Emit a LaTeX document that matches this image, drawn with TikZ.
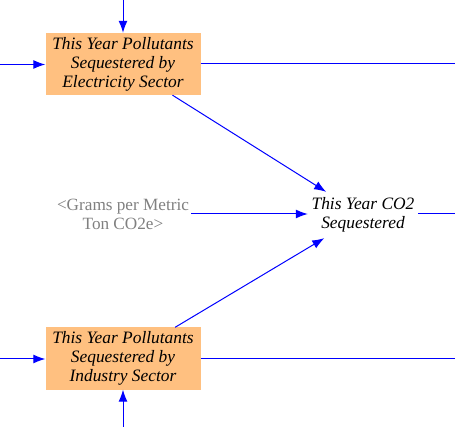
\documentclass[tikz,border=0pt]{standalone}
\usepackage{fontspec}
\setmainfont{Liberation Serif}
\usetikzlibrary{arrows.meta}
\definecolor{flowblue}{HTML}{0000FF}
\definecolor{stockfill}{HTML}{FFC080}
\definecolor{shadowgray}{HTML}{808080}
\tikzset{
  var/.style={align=center, inner sep=0pt, font=\fontsize{17.4}{19}\selectfont\itshape},
  stock/.style={var, rectangle, fill=stockfill, minimum width=155pt, minimum height=62pt},
  shadow/.style={align=center, inner sep=0pt, text=shadowgray, font=\fontsize{17.2}{19}\selectfont},
  link/.style={-{Latex[length=12pt,width=9pt]}, line width=1pt, draw=flowblue},
  plain/.style={line width=1pt, draw=flowblue}
}

\begin{document}
\begin{tikzpicture}[x=1pt,y=-1pt]
\useasboundingbox (0,0) rectangle (455,427);

\node[stock] (elecseq) at (123,64) {This Year Pollutants\\Sequestered by\\Electricity Sector};
\node[stock] (indseq) at (123,358.5) {This Year Pollutants\\Sequestered by\\Industry Sector};
\node[var, minimum width=110pt, minimum height=46pt] (co2seq) at (363,215) {This Year CO2\\Sequestered};
\node[shadow, minimum width=136pt, minimum height=40pt] (gramsper) at (123,214) {<Grams per Metric\\Ton CO2e>};

\coordinate (electop) at (123,0);
\coordinate (elecleft) at (0,64.5);
\coordinate (elecright) at (455,64);
\coordinate (indbot) at (123,427);
\coordinate (indleft) at (0,359);
\coordinate (indright) at (455,359);
\coordinate (co2right) at (455,214);

\draw[link] (electop) -- (elecseq);
\draw[link] (elecleft) -- (elecseq.west |- elecleft);
\draw[plain] (elecseq.east |- elecright) -- (elecright);
\draw[link] (indbot) -- (indseq);
\draw[link] (indleft) -- (indseq.west |- indleft);
\draw[plain] (indseq.east |- indright) -- (indright);

\draw[link] (elecseq) -- (co2seq);
\draw[link] (indseq) -- (co2seq);
\draw[link] (gramsper) -- (co2seq.west |- gramsper);
\draw[plain] (co2seq.east |- co2right) -- (co2right);

\end{tikzpicture}
\end{document}
